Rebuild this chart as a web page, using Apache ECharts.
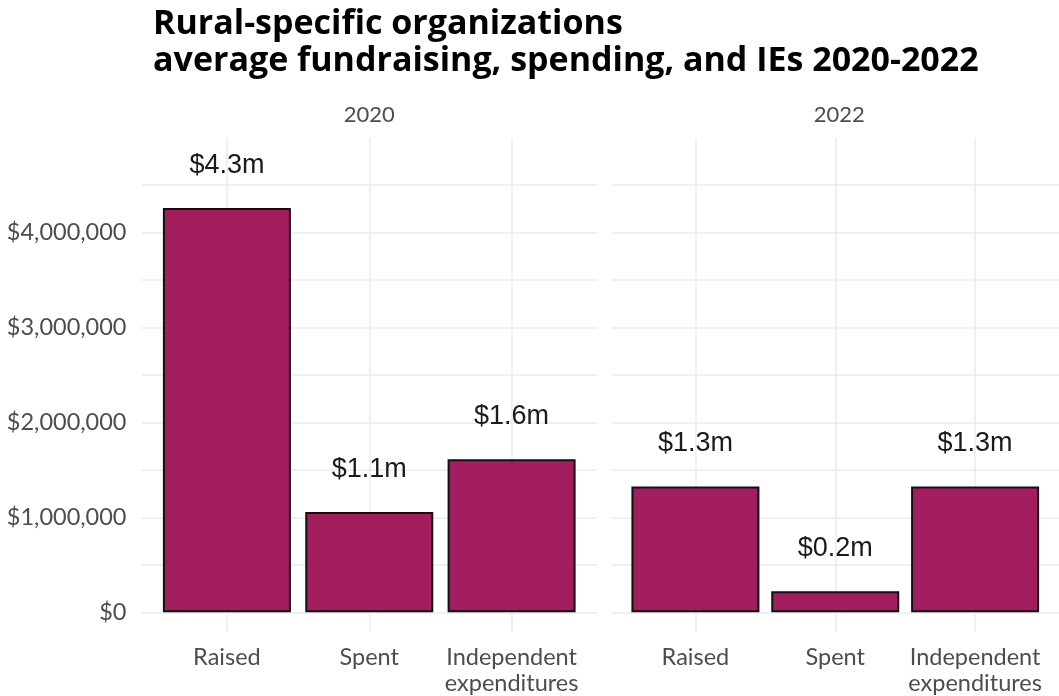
<!DOCTYPE html>
<html>
<head>
<meta charset="utf-8">
<script src="https://cdn.jsdelivr.net/npm/echarts@6/dist/echarts.min.js"></script>
<style>
  html, body { margin: 0; padding: 0; background: #ffffff; }
  #chart { width: 1059px; height: 696px; }
</style>
</head>
<body>
<div id="chart"></div>
<script>
// ---- data ----
const titleText = 'Rural-specific organizations\naverage fundraising, spending, and IEs 2020-2022';
const years = ['2020', '2022'];
const categories = ['Raised', 'Spent', 'Independent\nexpenditures'];
const values2020 = [4256000, 1057000, 1611000];
const values2022 = [1324000, 221000, 1324000];
const yLabelValues = [0, 1000000, 2000000, 3000000, 4000000];
const yGridValues = [0, 500000, 1000000, 1500000, 2000000, 2500000, 3000000, 3500000, 4000000, 4500000];
const categoryPositions = [1, 2, 3];

// ---- layout / style ----
const panelLefts = [141.5, 611.5];
const panelWidth = 455.5;
const panelTop = 138;
const panelHeight = 495;
const yMin = -207000;
const yMax = 4992000;
const xMin = 0.4;
const xMax = 3.6;
const barColor = '#A31E5F';
const gridColor = '#EBEBEB';
const axisTextColor = '#4D4D4D';
const labelFont = 'Lato, "Open Sans", sans-serif';

const seriesValues = [values2020, values2022];

function dollars(v) {
  return '$' + Math.round(v).toLocaleString('en-US');
}

const grids = panelLefts.map(left => ({
  left: left, top: panelTop, width: panelWidth, height: panelHeight, containLabel: false
}));

const xAxes = panelLefts.map((_, i) => ({
  type: 'value',
  gridIndex: i,
  min: xMin,
  max: xMax,
  axisLine: { show: false, onZero: false },
  axisTick: { show: false, customValues: categoryPositions },
  splitLine: { show: true, lineStyle: { color: gridColor, width: 1.5 } },
  axisLabel: {
    customValues: categoryPositions,
    formatter: v => categories[categoryPositions.indexOf(v)],
    margin: 12,
    color: axisTextColor,
    fontFamily: labelFont,
    fontSize: 23.5,
    lineHeight: 26
  }
}));

const yAxes = panelLefts.map((_, i) => ({
  type: 'value',
  gridIndex: i,
  min: yMin,
  max: yMax,
  axisLine: { show: false },
  axisTick: { show: false, customValues: yGridValues },
  splitLine: { show: true, lineStyle: { color: gridColor, width: 1.5 } },
  axisLabel: {
    show: i === 0,
    customValues: yLabelValues,
    formatter: dollars,
    margin: 15,
    color: axisTextColor,
    fontFamily: labelFont,
    fontSize: 23.5
  }
}));

const series = seriesValues.map((vals, i) => ({
  type: 'bar',
  xAxisIndex: i,
  yAxisIndex: i,
  data: vals.map((v, j) => [categoryPositions[j], v]),
  barWidth: 128,
  itemStyle: { color: barColor, borderColor: '#111111', borderWidth: 2 },
  label: {
    show: true,
    position: 'top',
    distance: 29,
    formatter: p => '$' + (p.value[1] / 1e6).toFixed(1) + 'm',
    fontFamily: '"Liberation Sans", Arial, sans-serif',
    fontSize: 27,
    color: '#1A1A1A'
  },
  silent: true
}));

const stripLabels = years.map((y, i) => ({
  type: 'text',
  x: panelLefts[i] + panelWidth / 2,
  y: 115,
  style: {
    text: y,
    textAlign: 'center',
    textVerticalAlign: 'middle',
    fill: axisTextColor,
    font: '22px ' + labelFont
  }
}));

const chart = echarts.init(document.getElementById('chart'), null, { renderer: 'canvas' });
chart.setOption({
  animation: false,
  backgroundColor: '#ffffff',
  title: {
    text: titleText,
    left: 148,
    top: 1,
    textStyle: {
      fontFamily: '"Open Sans", Lato, sans-serif',
      fontWeight: 'bold',
      fontSize: 34,
      lineHeight: 37,
      color: '#000000'
    }
  },
  grid: grids,
  xAxis: xAxes,
  yAxis: yAxes,
  series: series,
  graphic: stripLabels
});
</script>
</body>
</html>
